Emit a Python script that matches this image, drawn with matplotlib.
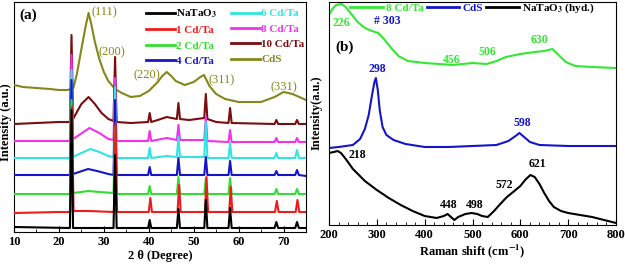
import numpy as np
import matplotlib
matplotlib.use("Agg")
import matplotlib.pyplot as plt
from matplotlib.ticker import MultipleLocator

plt.rcParams["font.family"] = ["Liberation Serif", "DejaVu Serif"]
plt.rcParams["font.weight"] = "bold"
plt.rcParams["mathtext.fontset"] = "stix"

# ---------------- (a) XRD patterns, (2theta, intensity)
xrd_labels = ["NaTaO$_\\mathbf{3}$", "1 Cd/Ta", "2 Cd/Ta", "4 Cd/Ta",
              "6 Cd/Ta", "8 Cd/Ta", "10 Cd/Ta", "CdS"]
xrd_colors = ["#000000", "#ee1c1c", "#33dd33", "#1515c8",
              "#33e3e3", "#f032ea", "#7a0d0d", "#86861a"]

xrd_natao3 = [(10, 5), (22.45, 4), (22.8, 122), (23.15, 4), (32.15, 4), (32.5, 77), (32.85, 4),
              (39.85, 4), (40.2, 12), (40.55, 4), (46.25, 4), (46.6, 23), (46.95, 4),
              (52.35, 4), (52.7, 32), (53.05, 4), (57.75, 4), (58.1, 24), (58.45, 4),
              (68.0, 4), (68.4, 10), (68.8, 4), (72.6, 4), (73.0, 10), (73.4, 4), (75, 4)]
xrd_1cd = [(10, 19), (20, 20), (22.55, 20), (22.9, 125), (23.25, 21), (26.5, 21), (32.25, 20),
           (32.6, 109), (32.95, 20), (40.0, 20), (40.35, 34), (40.7, 20), (46.4, 20),
           (46.75, 47), (47.1, 20), (52.5, 20), (52.85, 55), (53.2, 20), (57.9, 20),
           (58.25, 45), (58.6, 20), (68.1, 20), (68.5, 31), (68.9, 20), (72.7, 20),
           (73.1, 32), (73.5, 20), (75, 20)]
xrd_2cd = [(10, 38), (22.45, 38), (22.8, 132), (23.15, 39), (25, 40), (26.5, 41), (29, 40),
           (32.15, 39), (32.5, 105), (32.85, 38), (39.85, 38), (40.2, 46), (40.55, 38),
           (46.25, 38), (46.6, 55), (46.95, 38), (52.35, 38), (52.7, 54), (53.05, 38),
           (57.75, 38), (58.1, 54), (58.45, 38), (68.0, 38), (68.4, 43), (68.8, 38),
           (72.6, 38), (73.0, 43), (73.4, 38), (75, 38)]
xrd_4cd = [(10, 57), (22.45, 57), (22.8, 152), (23.15, 58), (24.5, 60), (26.5, 63), (28.5, 61),
           (31, 58), (32.15, 57), (32.5, 132), (32.85, 57), (39.85, 57), (40.2, 65), (40.55, 57),
           (46.25, 57), (46.6, 74), (46.95, 57), (52.35, 57), (52.7, 75), (53.05, 57),
           (57.75, 57), (58.1, 71), (58.45, 57), (68.0, 57), (68.4, 61), (68.8, 57),
           (72.6, 57), (73.0, 62), (73.4, 57), (75, 56)]
xrd_6cd = [(10, 74), (22.45, 74), (22.8, 162), (23.15, 75), (24.5, 78), (27, 83), (29, 80),
           (31, 76), (32.15, 75), (32.5, 145), (32.85, 74), (39.85, 74), (40.2, 84), (40.55, 74),
           (44, 76), (46.25, 75), (46.6, 95), (46.95, 75), (52.35, 75), (52.7, 110), (53.05, 74),
           (57.75, 74), (58.1, 89), (58.45, 74), (68.0, 74), (68.4, 79), (68.8, 74),
           (72.6, 74), (73.0, 82), (73.4, 74), (75, 74)]
xrd_8cd = [(10, 91), (22.45, 91), (22.8, 177), (23.15, 93), (24.5, 97), (26.8, 104), (29, 99),
           (31, 93), (32.15, 92), (32.5, 154), (32.85, 91), (39.85, 91), (40.2, 101), (40.55, 91),
           (44, 94), (46.25, 92), (46.6, 107), (46.95, 92), (52.35, 92), (52.7, 115), (53.05, 91),
           (57.75, 90), (58.1, 102), (58.45, 90), (68.0, 90), (68.4, 94), (68.8, 90),
           (72.6, 90), (73.0, 94), (73.4, 90), (75, 90)]
xrd_10cd = [(10, 108), (20, 110), (22.45, 110), (22.8, 197), (23.15, 113), (24, 120), (25, 128),
            (26.6, 135), (28, 128), (29.5, 119), (31, 113), (32.15, 111), (32.5, 175),
            (32.85, 110), (36, 109), (39.85, 110), (40.2, 119), (40.55, 110), (42, 112),
            (44, 115), (46.25, 113), (46.6, 129), (46.95, 113), (49, 112), (52.35, 114),
            (52.7, 138), (53.05, 113), (55, 110), (57.75, 109), (58.1, 124), (58.45, 109),
            (68.0, 108), (68.4, 112), (68.8, 108), (72.6, 108), (73.0, 112), (73.4, 108),
            (75, 108)]
xrd_cds = [(10, 147), (12, 145), (15, 144), (18, 143), (20, 142), (22, 142), (23.2, 144),
           (24, 158), (25, 183), (26, 207), (26.6, 219), (27.2, 208), (28, 190), (29, 173),
           (30, 160), (31, 151), (32.5, 143), (34, 139), (36, 135), (38, 136), (40, 141),
           (42, 150), (43, 156), (44, 160), (45, 156), (46, 151), (48, 147), (50, 150),
           (51.5, 155), (52.3, 157), (53.5, 146), (55, 138), (57, 133), (60, 130), (65, 130),
           (68, 135), (70, 140), (72, 138), (74, 134), (75, 132)]
xrd_series = [xrd_natao3, xrd_1cd, xrd_2cd, xrd_4cd, xrd_6cd, xrd_8cd, xrd_10cd, xrd_cds]

# CdS reflections and where their labels sit
hkl_labels = ["(111)", "(200)", "(220)", "(311)", "(331)"]
hkl_pos = [(30.1, 220), (31.7, 180), (39.5, 157), (56.3, 152), (70.0, 145)]

# ---------------- (b) Raman spectra (shift, intensity)
raman_labels = ["8 Cd/Ta", "CdS", "NaTaO$_\\mathbf{3}$ (hyd.)"]
raman_colors = ["#33e833", "#1515c8", "#000000"]
raman_8cd = [(200, 210), (207, 216), (215, 220), (226, 221), (235, 218), (245, 212),
             (260, 203), (275, 197), (290, 194), (303, 192), (315, 186), (330, 177),
             (345, 169), (365, 164), (400, 162), (430, 161), (456, 160), (480, 161),
             (500, 162), (530, 161), (550, 164), (570, 168), (600, 171), (630, 173),
             (650, 174), (667, 176), (680, 170), (695, 163), (715, 159), (750, 158),
             (800, 157)]
raman_cds = [(200, 77), (220, 78), (250, 80), (265, 86), (275, 96), (283, 110), (290, 130),
             (295, 143), (298, 147), (302, 135), (306, 115), (312, 98), (320, 90),
             (335, 85), (360, 81), (400, 78), (450, 78), (500, 79), (550, 80), (575, 84),
             (590, 89), (598, 92), (608, 88), (620, 83), (640, 80), (700, 79), (800, 79)]
raman_natao3 = [(200, 72), (210, 73), (218, 74), (225, 72), (235, 66), (250, 56), (275, 44),
                (300, 35), (325, 27), (350, 20), (375, 14), (400, 9), (425, 7), (440, 9),
                (448, 11), (455, 8), (462, 5), (470, 8), (485, 11), (498, 12), (510, 11),
                (520, 9), (532, 8), (545, 14), (560, 22), (572, 28), (585, 33), (600, 39),
                (610, 45), (621, 50), (630, 48), (640, 41), (650, 32), (660, 24), (670, 18),
                (685, 14), (700, 12), (725, 10), (750, 8), (775, 5), (800, 2)]
raman_series = [raman_8cd, raman_cds, raman_natao3]

# peak labels: text, x, y, colour index
raman_peaks = [("226", 225, 202, 0), ("# 303", 321, 204, 1), ("456", 457, 165, 0),
               ("506", 531, 173, 0), ("630", 641, 185, 0), ("298", 300, 156, 1),
               ("598", 604, 102, 1), ("218", 259, 70, 2), ("448", 451, 20, 2),
               ("498", 505, 20, 2), ("572", 566, 40, 2), ("621", 635, 61, 2)]

fig = plt.figure(figsize=(6.25, 2.69), dpi=100)
ax1 = fig.add_axes([14 / 625, 37 / 269, 292 / 625, 230 / 269])
ax2 = fig.add_axes([329 / 625, 44 / 269, 287 / 625, 223 / 269])

# ---- panel (a)
for k, (pts, col, lab) in enumerate(zip(xrd_series, xrd_colors, xrd_labels)):
    arr = np.array(pts)
    ax1.plot(arr[:, 0], arr[:, 1], color=col, lw=1.5, label=lab, zorder=20 - k)
ax1.set_xlim(10, 75)
ax1.set_ylim(0, 230)
ax1.set_yticks([])
ax1.xaxis.set_major_locator(MultipleLocator(10))
ax1.xaxis.set_minor_locator(MultipleLocator(5))
ax1.tick_params(axis="x", which="both", direction="in", labelsize=9, pad=3)
ax1.tick_params(axis="x", which="major", length=4)
ax1.tick_params(axis="x", which="minor", length=2.5)
ax1.set_xlabel("2 θ (Degree)", fontsize=9, fontweight="bold", labelpad=1)
ax1.text(13.1, 217, "(a)", fontsize=11, fontweight="bold", ha="center", va="center")
for lab, (x, y) in zip(hkl_labels, hkl_pos):
    ax1.text(x, y, lab, fontsize=9, fontweight="normal", color=xrd_colors[-1],
             ha="center", va="center", zorder=30)
leg1 = ax1.legend(ncol=2, loc="upper left", bbox_to_anchor=(0.425, 1.01), frameon=False,
                  fontsize=8, handlelength=2.6, handletextpad=0.15, columnspacing=1.2,
                  labelspacing=0.5, borderpad=0.2, labelcolor="linecolor")
for line in leg1.get_lines():
    line.set_linewidth(2)

# ---- panel (b)
for pts, col, lab in zip(raman_series, raman_colors, raman_labels):
    arr = np.array(pts)
    ax2.plot(arr[:, 0], arr[:, 1], color=col, lw=1.5, label=lab)
ax2.set_xlim(200, 800)
ax2.set_ylim(0, 223)
ax2.set_yticks([])
ax2.xaxis.set_major_locator(MultipleLocator(100))
ax2.xaxis.set_minor_locator(MultipleLocator(20))
ax2.tick_params(axis="x", which="both", direction="in", labelsize=9, pad=3)
ax2.tick_params(axis="x", which="major", length=4)
ax2.tick_params(axis="x", which="minor", length=2.5)
ax2.set_xlabel("Raman shift (cm$^{\\mathbf{-1}}$)", fontsize=9, fontweight="bold", labelpad=1)
ax2.text(233, 178, "(b)", fontsize=11, fontweight="bold", ha="center", va="center")
for txt, x, y, ci in raman_peaks:
    ax2.text(x, y, txt, fontsize=8.5, fontweight="bold", color=raman_colors[ci],
             ha="center", va="center")
leg2 = ax2.legend(ncol=3, loc="center left", bbox_to_anchor=(0.055, 0.972), frameon=False,
                  fontsize=8, handlelength=2.9, handletextpad=0.3, columnspacing=0.3,
                  borderpad=0, labelcolor="linecolor")
for line in leg2.get_lines():
    line.set_linewidth(2)

fig.text(6 / 625, 0.546, "Intensity (a.u.)", rotation=90, fontsize=9, fontweight="bold",
         ha="center", va="center")
fig.text(317 / 625, 0.58, "Intensity(a.u.)", rotation=90, fontsize=9, fontweight="bold",
         ha="center", va="center")

fig.savefig("out.png", dpi=100)
